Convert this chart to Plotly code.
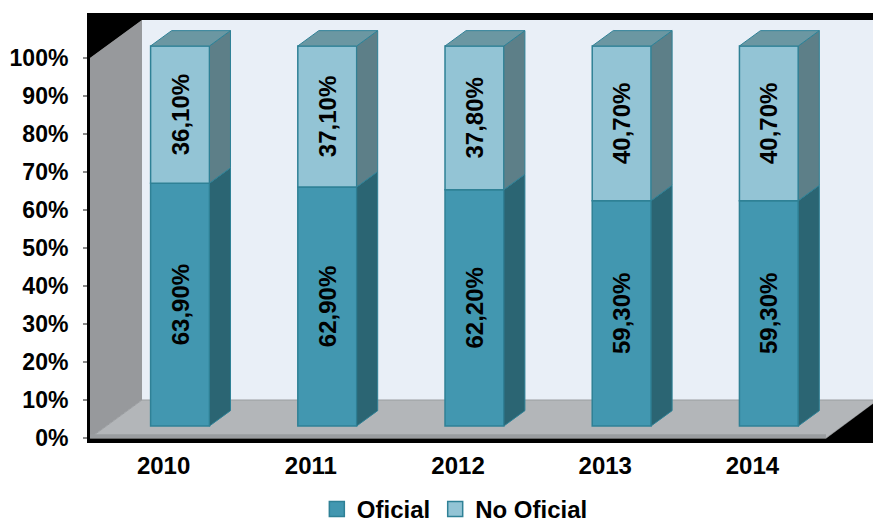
import plotly.graph_objects as go

# ---------------- data ----------------
years = ["2010", "2011", "2012", "2013", "2014"]
oficial = [63.9, 62.9, 62.2, 59.3, 59.3]
no_oficial = [36.1, 37.1, 37.8, 40.7, 40.7]
y_ticks = [0, 10, 20, 30, 40, 50, 60, 70, 80, 90, 100]
y_tick_labels = [f"{v}%" for v in y_ticks]
series_names = ["Oficial", "No Oficial"]


def fmt(v):
    return f"{v:.2f}".replace(".", ",") + "%"


# ---------------- 3D-look geometry (axis units) ----------------
DX, DY = 0.3533, 10.0          # shift for full depth (category units, % units)
D_FRONT, D_BACK = 0.316, 0.72  # bar depth position
HALF_W = 0.2
X_MAX = 5.319
Y_MIN, Y_MAX = -1.316, 111.84
N = len(years)

FONT = "Liberation Sans, Arial, sans-serif"
EDGE = "#2f8196"
cols = {
    "Oficial": dict(front="#4297b0", side="#2b6573", top="#3a7d8e"),
    "No Oficial": dict(front="#93c4d5", side="#5d7f88", top="#6b97a2"),
}

fig = go.Figure()

bases = [0.0] * N
series_vals = [oficial, no_oficial]
for s_idx, (name, vals) in enumerate(zip(series_names, series_vals)):
    c = cols[name]
    centers = [i + 0.5 + DX * D_FRONT for i in range(N)]
    # side faces
    sx, sy = [], []
    for i in range(N):
        xr_f = centers[i] + HALF_W
        xr_b = xr_f + DX * (D_BACK - D_FRONT)
        v0, v1 = bases[i], bases[i] + vals[i]
        sx += [xr_f, xr_b, xr_b, xr_f, xr_f, None]
        sy += [v0 + DY * D_FRONT, v0 + DY * D_BACK, v1 + DY * D_BACK,
               v1 + DY * D_FRONT, v0 + DY * D_FRONT, None]
    fig.add_trace(go.Scatter(x=sx, y=sy, mode="lines", fill="toself",
                             fillcolor=c["side"], line=dict(color=EDGE, width=1),
                             hoverinfo="skip", showlegend=False))
    # top faces (only for the top series)
    if s_idx == len(series_vals) - 1:
        tx, ty = [], []
        for i in range(N):
            xl_f = centers[i] - HALF_W
            xr_f = centers[i] + HALF_W
            sh = DX * (D_BACK - D_FRONT)
            v1 = bases[i] + vals[i]
            tx += [xl_f, xl_f + sh, xr_f + sh, xr_f, xl_f, None]
            ty += [v1 + DY * D_FRONT, v1 + DY * D_BACK, v1 + DY * D_BACK,
                   v1 + DY * D_FRONT, v1 + DY * D_FRONT, None]
        fig.add_trace(go.Scatter(x=tx, y=ty, mode="lines", fill="toself",
                                 fillcolor=c["top"], line=dict(color=EDGE, width=1),
                                 hoverinfo="skip", showlegend=False))
    # front faces
    fig.add_trace(go.Bar(
        x=centers, y=vals, base=[b + DY * D_FRONT for b in bases], width=2 * HALF_W,
        marker=dict(color=c["front"], line=dict(color=EDGE, width=1.5)),
        text=[fmt(v) for v in vals], textposition="inside", insidetextanchor="middle",
        textangle=-90, textfont=dict(family=FONT, size=24, color="black", weight="bold"),
        showlegend=False, hoverinfo="skip"))
    bases = [b + v for b, v in zip(bases, vals)]

# legend entries
for name in series_names:
    fig.add_trace(go.Scatter(x=[None], y=[None], mode="markers", name=name,
                             marker=dict(symbol="square", size=15, color=cols[name]["front"],
                                         line=dict(color=EDGE, width=1.5))))

shapes = [
    # back wall
    dict(type="rect", x0=DX, x1=X_MAX + 0.2, y0=DY, y1=100 + DY,
         fillcolor="#e9eff7", line=dict(width=0), layer="below"),
    # left wall
    dict(type="path", path=f"M 0,0 L {DX},{DY} L {DX},{100 + DY} L 0,100 Z",
         fillcolor="#97999c", line=dict(width=0), layer="below"),
    # floor
    dict(type="path", path=f"M 0,0 L {DX},{DY} L {5 + DX},{DY} L 5,0 Z",
         fillcolor="#b3b6b9", line=dict(color="#9a9da0", width=1), layer="below"),
    dict(type="rect", x0=0, x1=5, y0=0, y1=1.0,
         fillcolor="#999c9f", line=dict(width=0), layer="below"),
    # black frame artefacts
    dict(type="path",
         path=f"M 0,100 L {DX},{100 + DY} L {X_MAX + 0.2},{100 + DY} L {X_MAX + 0.2},{Y_MAX + 2} L 0,{Y_MAX + 2} Z",
         fillcolor="black", line=dict(width=0), layer="below"),
    dict(type="path",
         path=f"M -0.05,-0.15 L 5,-0.15 L {5 + DX},{DY} L {X_MAX + 0.2},{DY} L {X_MAX + 0.2},{Y_MIN - 2} L -0.05,{Y_MIN - 2} Z",
         fillcolor="black", line=dict(width=0), layer="below"),
]

fig.update_layout(
    width=873, height=532,
    margin=dict(l=90, r=0, t=13, b=89, autoexpand=False),
    paper_bgcolor="white", plot_bgcolor="white",
    barmode="overlay",
    shapes=shapes,
    font=dict(family=FONT, color="black"),
    xaxis=dict(range=[0, X_MAX], tickvals=[i + 0.5 for i in range(N)], ticktext=years,
               showgrid=False, zeroline=False, showline=False, ticks="",
               tickfont=dict(size=24, weight="bold"), ticklabelstandoff=6),
    xaxis2=dict(range=[0, X_MAX], overlaying="x", anchor="y", side="bottom",
                tickvals=list(range(N + 1)), showticklabels=False, ticks="outside",
                ticklen=5, tickcolor="#8a8a8a", tickwidth=1.5,
                showgrid=False, zeroline=False, showline=False),
    yaxis=dict(range=[Y_MIN, Y_MAX], tickvals=y_ticks, ticktext=y_tick_labels,
               showgrid=False, zeroline=False, showline=True, linecolor="black", linewidth=3,
               ticks="outside", ticklen=4, tickcolor="#8a8a8a", tickwidth=1.5,
               tickfont=dict(size=23, weight="bold"), ticklabelstandoff=10),
    legend=dict(orientation="h", xref="container", yref="container", x=0.521, y=-0.012,
                xanchor="center", yanchor="bottom",
                font=dict(size=24, weight="bold"), itemclick=False),
    showlegend=True,
)

fig.write_html("out.html", config={"displayModeBar": False},
               post_script="document.body.style.margin='0';document.body.style.overflow='hidden';")
